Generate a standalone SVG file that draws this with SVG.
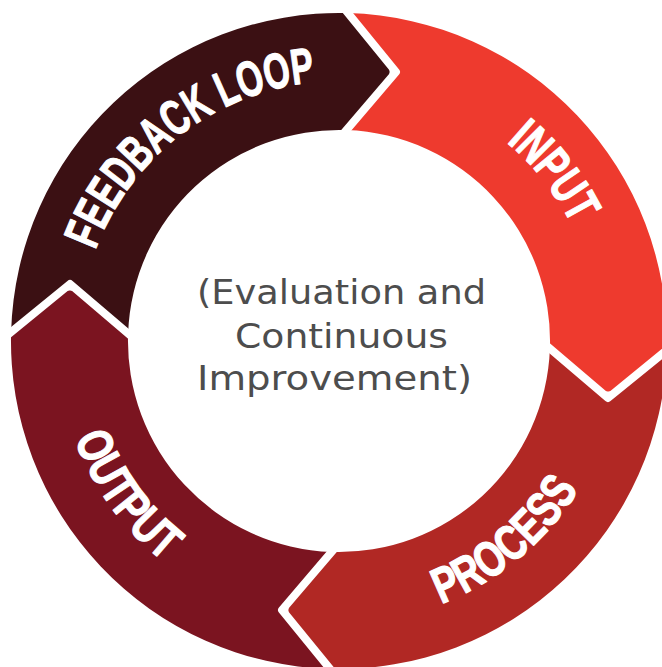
<svg xmlns="http://www.w3.org/2000/svg" width="662" height="667" viewBox="0 0 662 667">
<style>
.gap{fill:none;stroke:#ffffff;stroke-width:8;stroke-linejoin:round;stroke-linecap:butt}
.lbl{font-family:"Liberation Sans",Arial,sans-serif;font-weight:bold;font-size:50px;fill:#ffffff;stroke:#ffffff;stroke-width:1.2;stroke-linejoin:round}
.ctr{font-family:"DejaVu Sans",sans-serif;font-size:33px;fill:#4d4d4d}
</style>
<defs>
<path id="segShape" d="M9,-327.9 A328,328 0 0 1 327.9,9 L284.5,44.36 Q269,57 253.78,44.02 L210.9,7.5 A211,211 0 0 0 7.5,-210.9 L57,-269 Z"/>
<path id="gapShape" d="M1.4,-337.2 L57,-269 L-0.3,-201.8"/>
<path id="arcFeedback" d="M81.17,374.49 A260,260 0 0 1 438.92,100.97"/>
<path id="arcInput" d="M301.92,83.66 A260,260 0 0 1 580.41,437.56"/>
<path id="arcProcess" d="M240.82,606.42 A284,284 0 0 0 617.95,293.32"/>
<path id="arcOutput" d="M81.13,225.65 A283,283 0 0 0 368.04,622.0"/>
</defs>
<rect width="662" height="667" fill="#ffffff"/>
<g id="input">
<use href="#segShape" transform="translate(339,341)" fill="#ee3a2e"/>
<text class="lbl" text-anchor="middle"><textPath href="#arcInput" startOffset="50%" textLength="106" lengthAdjust="spacingAndGlyphs">INPUT</textPath></text>
</g>
<g id="process">
<use href="#segShape" transform="translate(339,341) rotate(90)" fill="#b12824"/>
<text class="lbl" text-anchor="middle"><textPath href="#arcProcess" startOffset="50%" textLength="182" lengthAdjust="spacingAndGlyphs">PROCESS</textPath></text>
</g>
<g id="output">
<use href="#segShape" transform="translate(339,341) rotate(180)" fill="#7b1420"/>
<text class="lbl" text-anchor="middle"><textPath href="#arcOutput" startOffset="50%" textLength="154" lengthAdjust="spacingAndGlyphs">OUTPUT</textPath></text>
</g>
<g id="feedback">
<use href="#segShape" transform="translate(339,341) rotate(270)" fill="#3b1013"/>
<text class="lbl" text-anchor="middle"><textPath href="#arcFeedback" startOffset="50%" textLength="292" lengthAdjust="spacingAndGlyphs">FEEDBACK LOOP</textPath></text>
</g>
<g id="separators">
<use href="#gapShape" class="gap" transform="translate(339,341)"/>
<use href="#gapShape" class="gap" transform="translate(339,341) rotate(90)"/>
<use href="#gapShape" class="gap" transform="translate(339,341) rotate(180)"/>
<use href="#gapShape" class="gap" transform="translate(339,341) rotate(270)"/>
</g>
<g id="center">
<text class="ctr" x="197" y="304" textLength="289" lengthAdjust="spacingAndGlyphs">(Evaluation and</text>
<text class="ctr" x="235" y="347.5" textLength="213" lengthAdjust="spacingAndGlyphs">Continuous</text>
<text class="ctr" x="197" y="389.5" textLength="275" lengthAdjust="spacingAndGlyphs">Improvement)</text>
</g>
</svg>
